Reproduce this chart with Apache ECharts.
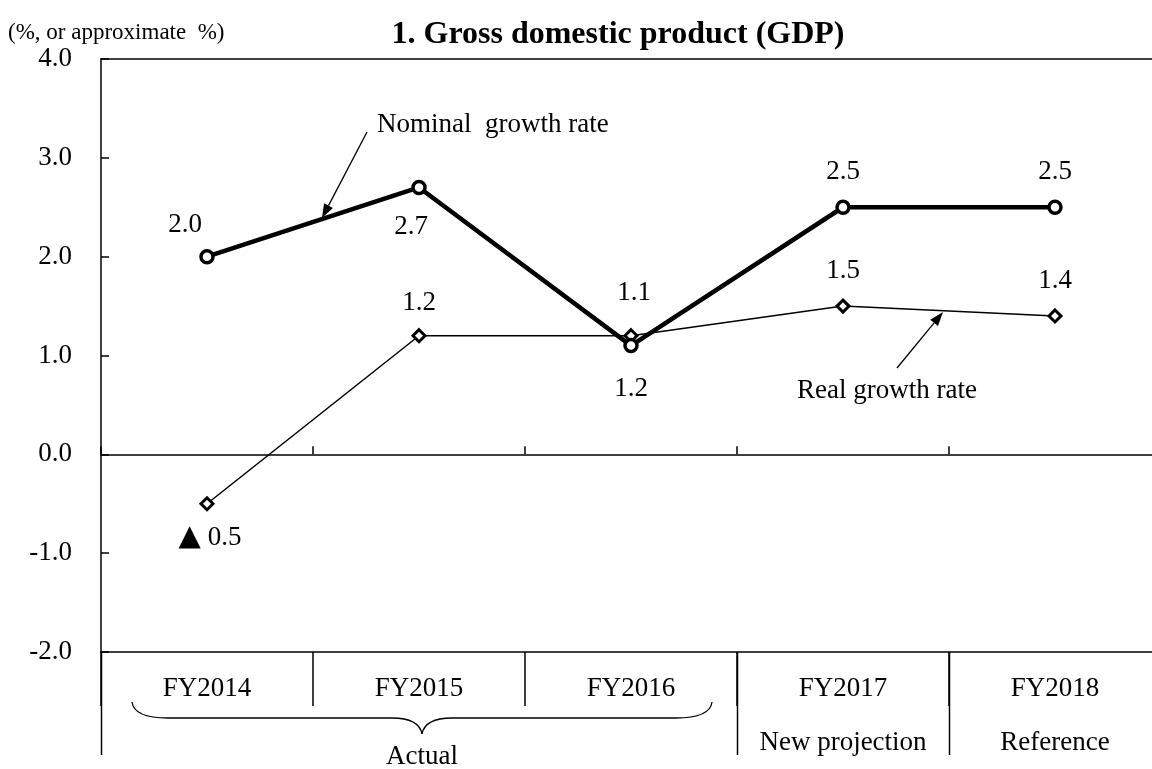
<!DOCTYPE html>
<html>
<head>
<meta charset="utf-8">
<script src="https://cdn.jsdelivr.net/npm/echarts@6/dist/echarts.min.js"></script>
<style>
  html, body { margin: 0; padding: 0; background: #fff; }
  #main { width: 1152px; height: 769px; }
</style>
</head>
<body>
<div id="main"></div>
<script>
// data
var categories = ['FY2014', 'FY2015', 'FY2016', 'FY2017', 'FY2018'];
var subLabels = ['', '', '', 'New projection', 'Reference'];
var nominal = [2.0, 2.7, 1.1, 2.5, 2.5];
var real = [-0.5, 1.2, 1.2, 1.5, 1.4];
var yMin = -2, yMax = 4, yStep = 1;

// where each value label sits relative to its point
var nominalOffsets = [[-22, -32], [-8, 39], [3, -53], [0, -35], [0, -35]];
var realOffsets = [[3, 34], [0, -33], [0, 53], [0, -35], [0, -35]];

var FONT = "'Liberation Serif', 'Times New Roman', 'DejaVu Serif', serif";

// plot box (the right edge runs a little past the picture, as in the original)
var GL = 101, GT = 59, GW = 1060, GH = 593;
var axisY = GT + GH;

// negative values are written with a triangle, Japanese style
function fmt(v) {
  return v < 0 ? '{tri|\u25B2} ' + Math.abs(v).toFixed(1) : v.toFixed(1);
}

function withLabels(vals, offs) {
  return vals.map(function (v, i) {
    return { value: v, label: { offset: offs[i] } };
  });
}

// arrow: line plus filled head
function arrow(x1, y1, x2, y2) {
  var dx = x2 - x1, dy = y2 - y1;
  var len = Math.sqrt(dx * dx + dy * dy);
  var ux = dx / len, uy = dy / len;
  var nx = -uy, ny = ux;
  var hl = 14, hw = 5;
  var bx = x2 - ux * hl, by = y2 - uy * hl;
  return [
    { type: 'line', shape: { x1: x1, y1: y1, x2: bx, y2: by }, style: { stroke: '#000', lineWidth: 1.3 } },
    { type: 'polygon', shape: { points: [[x2, y2], [bx + nx * hw, by + ny * hw], [bx - nx * hw, by - ny * hw]] }, style: { fill: '#000' } }
  ];
}

function curve(x1, y1, cx, cy, x2, y2) {
  return { type: 'bezierCurve', shape: { x1: x1, y1: y1, cpx1: cx, cpy1: cy, x2: x2, y2: y2 },
    style: { fill: null, stroke: '#000', lineWidth: 1.3 } };
}

function seg(x1, y1, x2, y2, w) {
  return { type: 'line', shape: { x1: x1, y1: y1, x2: x2, y2: y2 }, style: { stroke: '#000', lineWidth: w || 1.3 } };
}

var myChart = echarts.init(document.getElementById('main'));

var labelStyle = {
  show: true, position: 'inside', fontFamily: FONT, fontSize: 27, color: '#000',
  rich: { tri: { fontFamily: "'DejaVu Sans', sans-serif", fontSize: 29, color: '#000' } },
  formatter: function (p) { return fmt(p.value); }
};

var option = {
  backgroundColor: '#fff',
  animation: false,
  title: {
    text: '1. Gross domestic product (GDP)',
    left: 613,
    top: 14,
    textAlign: 'center',
    textStyle: { fontFamily: FONT, fontSize: 32, fontWeight: 'bold', color: '#000' }
  },
  grid: { left: GL, top: GT, width: GW, height: GH, containLabel: false, outerBoundsMode: 'none' },
  xAxis: [
    {
      type: 'category', data: categories, position: 'bottom',
      axisLine: { onZero: true, lineStyle: { color: '#000', width: 1.5 } },
      axisTick: { show: true, interval: 0, inside: true, length: 8, lineStyle: { color: '#000', width: 1.5 } },
      axisLabel: { show: false }
    },
    {
      type: 'category', data: categories, position: 'top',
      axisLine: { onZero: false, lineStyle: { color: '#000', width: 1.5 } },
      axisTick: { show: false },
      axisLabel: { show: false }
    },
    {
      type: 'category', data: categories, position: 'bottom',
      axisLine: { onZero: false, lineStyle: { color: '#000', width: 1.5 } },
      axisTick: { show: true, interval: 0, inside: false, length: 54, lineStyle: { color: '#000', width: 1.5 } },
      axisLabel: {
        interval: 0, margin: 10, lineHeight: 54,
        fontFamily: FONT, fontSize: 27, color: '#000',
        formatter: function (v, i) { return subLabels[i] ? v + '\n' + subLabels[i] : v; }
      }
    }
  ],
  yAxis: {
    type: 'value', min: yMin, max: yMax, interval: yStep,
    axisLine: { show: true, lineStyle: { color: '#000', width: 1.5 } },
    axisTick: { show: true, inside: true, length: 8, lineStyle: { color: '#000', width: 1.5 } },
    splitLine: { show: false },
    axisLabel: { margin: 29, fontFamily: FONT, fontSize: 27, color: '#000', formatter: function (v) { return v.toFixed(1); } }
  },
  series: [
    {
      name: 'Real growth rate', type: 'line', xAxisIndex: 0,
      data: withLabels(real, realOffsets),
      symbol: 'diamond', symbolSize: 12,
      lineStyle: { color: '#000', width: 1.5 },
      itemStyle: { color: '#fff', borderColor: '#000', borderWidth: 3 },
      label: labelStyle,
      z: 2
    },
    {
      name: 'Nominal growth rate', type: 'line', xAxisIndex: 0,
      data: withLabels(nominal, nominalOffsets),
      symbol: 'circle', symbolSize: 12,
      lineStyle: { color: '#000', width: 4.5 },
      itemStyle: { color: '#fff', borderColor: '#000', borderWidth: 3.5 },
      label: labelStyle,
      z: 3
    }
  ],
  graphic: []
};

myChart.setOption(option);

// category boundaries as the axis actually placed them
function boundary(i) {
  var a = myChart.convertToPixel({ xAxisIndex: 2 }, i - 1);
  var b = myChart.convertToPixel({ xAxisIndex: 2 }, i);
  return Math.round((a + b) / 2) + 0.5;
}
var x0 = myChart.convertToPixel({ xAxisIndex: 2 }, 0) - (myChart.convertToPixel({ xAxisIndex: 2 }, 1) - myChart.convertToPixel({ xAxisIndex: 2 }, 0)) / 2;
var b3 = boundary(3), b4 = boundary(4);
var left = Math.round(x0) + 0.5;

var graphics = [
  { type: 'text', x: 8, y: 33, style: { text: '(%, or approximate  %)', font: '23px ' + FONT, fill: '#000', textVerticalAlign: 'middle' } },
  // table lines below the axis
  seg(left, axisY, left, 755, 1.5),
  seg(b3, axisY, b3, 755, 1.5),
  seg(b4, axisY, b4, 755, 1.5),
  // brace over the three actual years
  curve(132, 702, 134, 718, 168, 718),
  seg(168, 718, 392, 718),
  curve(392, 718, 419, 718, 422, 734),
  curve(422, 734, 425, 718, 452, 718),
  seg(452, 718, 676, 718),
  curve(676, 718, 710, 718, 712, 702),
  { type: 'text', x: 422, y: 757, style: { text: 'Actual', font: '27px ' + FONT, fill: '#000', textAlign: 'center', textVerticalAlign: 'middle' } },
  // annotations
  { type: 'text', x: 377, y: 125, style: { text: 'Nominal  growth rate', font: '27px ' + FONT, fill: '#000', textAlign: 'left', textVerticalAlign: 'middle' } },
  { type: 'text', x: 887, y: 391, style: { text: 'Real growth rate', font: '27px ' + FONT, fill: '#000', textAlign: 'center', textVerticalAlign: 'middle' } }
].concat(arrow(367, 132, 322, 218)).concat(arrow(897, 368, 943, 312));

myChart.setOption({ graphic: graphics });
</script>
</body>
</html>
